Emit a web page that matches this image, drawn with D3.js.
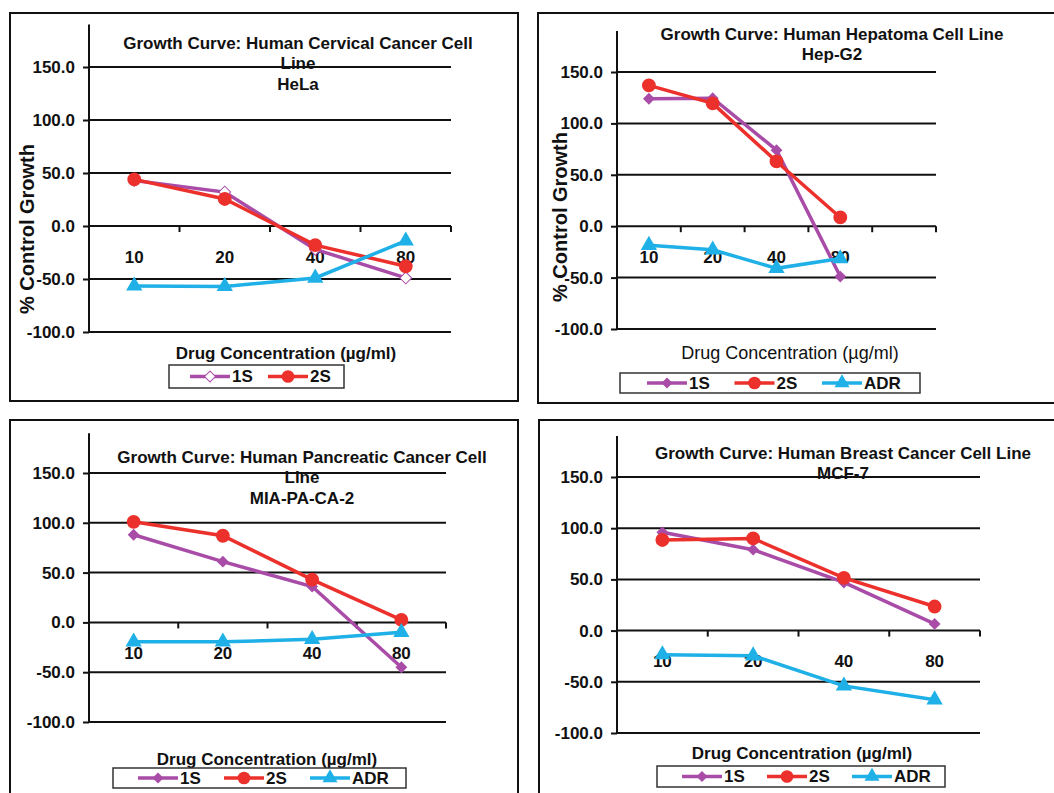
<!DOCTYPE html>
<html>
<head>
<meta charset="utf-8">
<script src="https://cdn.jsdelivr.net/npm/d3@7"></script>
<style>
  body { margin: 0; background: #fff; }
  svg { display: block; font-family: "Liberation Sans", Arial, sans-serif; }
</style>
</head>
<body>
<svg id="chart" width="1054" height="793"></svg>
<script>
// values
const concentrations = ["10", "20", "40", "80"];
const hepCategories = ["10", "20", "40", "80", ""]; // hep-g2 chart has an empty 5th slot
const yTicks = [-100, -50, 0, 50, 100, 150];

const helaS1 = [43, 32, -22, -49];
const helaS2 = [44, 25.5, -18, -38];
const helaADR = [-56.5, -57, -49, -14];

const hepS1 = [124, 124.5, 74, -49];
const hepS2 = [137, 119.5, 63, 8.5];
const hepADR = [-18.5, -23, -41, -31.5];

const miaS1 = [88, 61, 36, -45];
const miaS2 = [101, 87, 43, 2.5];
const miaADR = [-19.5, -19.5, -17, -10];

const mcfS1 = [96, 79, 47, 6.5];
const mcfS2 = [88.5, 90, 51.5, 23.5];
const mcfADR = [-23.5, -24.5, -54, -67.5];

const helaTitle = ["Growth Curve: Human Cervical Cancer Cell", "Line", "HeLa"];
const hepTitle = ["Growth Curve: Human Hepatoma Cell Line", "Hep-G2"];
const miaTitle = ["Growth Curve: Human Pancreatic Cancer Cell", "Line", "MIA-PA-CA-2"];
const mcfTitle = ["Growth Curve: Human Breast Cancer Cell Line", "MCF-7"];

const xTitle = "Drug Concentration (\u00b5g/ml)";
const yTitle = "% Control Growth";

const colors = { "1S": "#a84ca8", "2S": "#ec302b", "ADR": "#1eb0e6" };
const shapes = { "1S": d3.symbolSquare, "2S": d3.symbolCircle, "ADR": d3.symbolTriangle };
const sizes = { "1S": 70, "2S": 150, "ADR": 115 };

const svg = d3.select("#chart");

const panels = [
  {
    box: [10, 13, 518, 401], left: 89, right: 451, y150: 67, yNeg100: 332,
    cats: concentrations, xLabelY: 257,
    series: [["1S", helaS1], ["2S", helaS2], ["ADR", helaADR]],
    hollow1S: true,
    title: helaTitle, titleX: 298, titleY: 43,
    yTitle: true, yTitleX: 27, yTitleY: 229,
    xTitleX: 286, xTitleY: 353, xTitleBold: true,
    legend: { box: [169, 365, 344, 388], start: 190, step: 78, names: ["1S", "2S"] }
  },
  {
    box: [538, 13, 1060, 403], left: 617, right: 936, y150: 72, yNeg100: 329,
    cats: hepCategories, xLabelY: 257,
    series: [["1S", hepS1], ["2S", hepS2], ["ADR", hepADR]],
    title: hepTitle, titleX: 832, titleY: 34,
    yTitle: true, yTitleX: 560, yTitleY: 217,
    xTitleX: 790, xTitleY: 353, xTitleBold: false,
    legend: { box: [620, 373, 920, 393], start: 647, step: 87.5, names: ["1S", "2S", "ADR"] }
  },
  {
    box: [10, 420, 518, 800], left: 89, right: 446, y150: 473, yNeg100: 722,
    cats: concentrations, xLabelY: 653,
    series: [["1S", miaS1], ["2S", miaS2], ["ADR", miaADR]],
    title: miaTitle, titleX: 302, titleY: 457,
    yTitle: false,
    xTitleX: 267, xTitleY: 759, xTitleBold: true,
    legend: { box: [113, 768, 406, 788], start: 138, step: 86, names: ["1S", "2S", "ADR"] }
  },
  {
    box: [539, 420, 1060, 800], left: 617, right: 980, y150: 477, yNeg100: 733,
    cats: concentrations, xLabelY: 661,
    series: [["1S", mcfS1], ["2S", mcfS2], ["ADR", mcfADR]],
    title: mcfTitle, titleX: 843, titleY: 453,
    yTitle: false,
    xTitleX: 802, xTitleY: 753, xTitleBold: true,
    legend: { box: [657, 766, 945, 787], start: 682, step: 85, names: ["1S", "2S", "ADR"] }
  }
];

function marker(sel, name, cx, cy, hollow, scale) {
  // 1S uses a square turned 45deg so it reads as a proper diamond
  const rot = name === "1S" ? " rotate(45)" : "";
  sel.append("path")
    .attr("d", d3.symbol().type(shapes[name]).size(sizes[name] * scale)())
    .attr("transform", `translate(${cx},${cy})${rot}`)
    .attr("fill", hollow ? "#fff" : colors[name])
    .attr("stroke", colors[name])
    .attr("stroke-width", hollow ? 1 : 0);
}

function drawPanel(p) {
  const g = svg.append("g");

  g.append("rect")
    .attr("x", p.box[0]).attr("y", p.box[1])
    .attr("width", p.box[2] - p.box[0]).attr("height", p.box[3] - p.box[1])
    .attr("fill", "none").attr("stroke", "#111").attr("stroke-width", 2);

  const x = d3.scaleBand().domain(p.cats).range([p.left, p.right]);
  const y = d3.scaleLinear().domain([-100, 150]).range([p.yNeg100, p.y150]);

  // title
  g.append("text")
    .attr("x", p.titleX).attr("y", p.titleY)
    .attr("text-anchor", "middle").attr("font-weight", "bold").attr("font-size", 17)
    .attr("fill", "#111")
    .selectAll("tspan").data(p.title).join("tspan")
    .attr("x", p.titleX).attr("y", (d, i) => p.titleY + i * 20.5).attr("dy", "0.35em")
    .text(d => d);

  // gridlines
  g.append("g").selectAll("line").data(yTicks).join("line")
    .attr("x1", p.left).attr("x2", p.right)
    .attr("y1", d => y(d)).attr("y2", d => y(d))
    .attr("stroke", "#111").attr("stroke-width", 2);

  // y axis
  const ya = g.append("g")
    .attr("transform", `translate(${p.left},0)`)
    .call(d3.axisLeft(y).tickValues(yTicks).tickSize(6).tickSizeOuter(0).tickPadding(8)
      .tickFormat(d => d.toFixed(1)));
  ya.select(".domain").remove();
  ya.attr("font-family", null).attr("font-size", 17).attr("font-weight", "bold");
  ya.selectAll(".tick line").attr("stroke", "#111").attr("stroke-width", 2);
  ya.selectAll(".tick text").attr("fill", "#111");
  g.append("line")
    .attr("x1", p.left).attr("x2", p.left)
    .attr("y1", y(190)).attr("y2", y(-100))
    .attr("stroke", "#111").attr("stroke-width", 2);

  // x tick marks on zero line, at band edges
  g.append("g").selectAll("line").data(p.cats).join("line")
    .attr("x1", d => x(d) + x.bandwidth()).attr("x2", d => x(d) + x.bandwidth())
    .attr("y1", y(0)).attr("y2", y(0) + 6)
    .attr("stroke", "#111").attr("stroke-width", 2);

  // x category labels
  g.append("g").selectAll("text").data(p.cats).join("text")
    .attr("x", d => x(d) + x.bandwidth() / 2).attr("y", p.xLabelY).attr("dy", "0.35em")
    .attr("text-anchor", "middle").attr("font-weight", "bold").attr("font-size", 17)
    .attr("fill", "#111")
    .text(d => d);

  // series
  const cx = i => x(p.cats[i]) + x.bandwidth() / 2;
  p.series.forEach(([name, vals]) => {
    g.append("path")
      .datum(vals)
      .attr("fill", "none")
      .attr("stroke", colors[name])
      .attr("stroke-width", 3.5)
      .attr("d", d3.line().x((d, i) => cx(i)).y(d => y(d)));
    const mg = g.append("g");
    vals.forEach((v, i) => marker(mg, name, cx(i), y(v), name === "1S" && p.hollow1S, 1));
  });

  // axis titles
  if (p.yTitle) {
    g.append("text")
      .attr("transform", `translate(${p.yTitleX},${p.yTitleY}) rotate(-90)`)
      .attr("dy", "0.35em").attr("text-anchor", "middle")
      .attr("font-weight", "bold").attr("font-size", 20).attr("fill", "#111")
      .text(yTitle);
  }
  g.append("text")
    .attr("x", p.xTitleX).attr("y", p.xTitleY).attr("dy", "0.35em")
    .attr("text-anchor", "middle")
    .attr("font-weight", p.xTitleBold ? "bold" : "normal")
    .attr("font-size", p.xTitleBold ? 17 : 18).attr("fill", "#111")
    .text(xTitle);

  // legend
  const L = p.legend;
  const ly = (L.box[1] + L.box[3]) / 2;
  const lg = g.append("g");
  lg.append("rect")
    .attr("x", L.box[0]).attr("y", L.box[1])
    .attr("width", L.box[2] - L.box[0]).attr("height", L.box[3] - L.box[1])
    .attr("fill", "#fff").attr("stroke", "#333").attr("stroke-width", 1.5);
  L.names.forEach((name, i) => {
    const sx = L.start + i * L.step;
    lg.append("line")
      .attr("x1", sx).attr("x2", sx + 40).attr("y1", ly).attr("y2", ly)
      .attr("stroke", colors[name]).attr("stroke-width", 3.5);
    marker(lg, name, sx + 20, ly, name === "1S" && p.hollow1S, 0.85);
    lg.append("text")
      .attr("x", sx + 42).attr("y", ly).attr("dy", "0.35em")
      .attr("font-weight", "bold").attr("font-size", 17).attr("fill", "#111")
      .text(name);
  });
}

panels.forEach(drawPanel);
</script>
</body>
</html>
